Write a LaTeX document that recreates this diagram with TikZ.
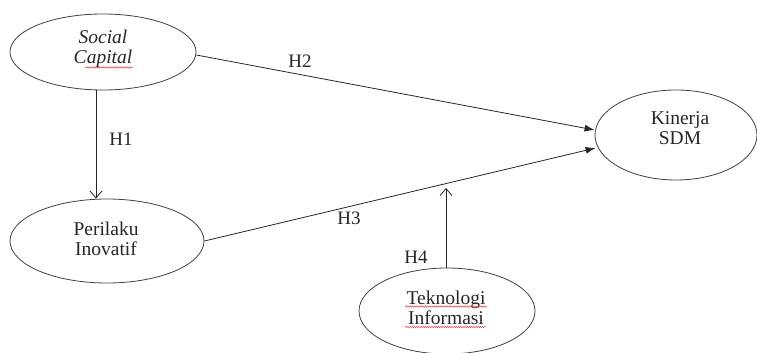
\documentclass[tikz,border=0pt]{standalone}
\usepackage{fontspec}
\setmainfont{Liberation Serif}
\usetikzlibrary{shapes.geometric,arrows.meta,decorations.pathmorphing}
\begin{document}
\begin{tikzpicture}[x=1pt,y=-1pt,
  ell/.style={draw=black!75, ellipse, line width=0.8pt, inner sep=0pt},
  txt/.style={align=center, font=\fontsize{19.5}{20}\selectfont, text=black!85, inner sep=0pt},
  lbl/.style={font=\fontsize{19}{20}\selectfont, text=black!85, inner sep=0pt},
  conn/.style={line width=0.8pt, draw=black!85},
  filled/.style={conn, -{Latex[length=10pt,width=7pt]}},
  open/.style={conn, -{Straight Barb[length=7pt,width=12pt]}},
  squig/.style={draw=red!80, line width=0.45pt, decorate, decoration={snake, segment length=2.2pt, amplitude=0.7pt}}]
\useasboundingbox (0,0) rectangle (757,353);
% ellipses
\node[ell, minimum width=186pt, minimum height=76pt] (sc) at (103,52) {};
\node[ell, minimum width=194pt, minimum height=84pt] (pi) at (107,241) {};
\node[ell, minimum width=162pt, minimum height=90pt] (ks) at (676,135) {};
\node[ell, minimum width=176pt, minimum height=86pt] (ti) at (447,311) {};
% texts
\node[txt] (sct) at (103,49) {\textit{Social}\\\textit{Capital}};
\node[txt] (pit) at (106,239) {Perilaku\\Inovatif};
\node[txt] (kst) at (680,128) {Kinerja\\SDM};
\node[txt] (tit) at (446,308) {Teknologi\\Informasi};
% spelling squiggles
\draw[squig] (85,67.5) -- (133,67.5);
\draw[squig] (405,306.5) -- (487,306.5);
\draw[squig] (405,327) -- (486,327);
% connectors
\coordinate (h4end) at (446,188);
\draw[open] ([xshift=-7pt]sc.south) -- ([xshift=-11pt]pi.north);
\draw[filled] ([yshift=-3pt]sc.east) -- ([yshift=5pt]ks.west);
\draw[filled] (pi.east) -- ([xshift=1pt,yshift=-13pt]ks.west);
\draw[open] ([xshift=-1pt]ti.north) -- (h4end);
% labels
\node[lbl] (h1) at (121,139) {H1};
\node[lbl] (h2) at (300,61) {H2};
\node[lbl] (h3) at (349,218) {H3};
\node[lbl] (h4) at (416,257) {H4};
\end{tikzpicture}
\end{document}
